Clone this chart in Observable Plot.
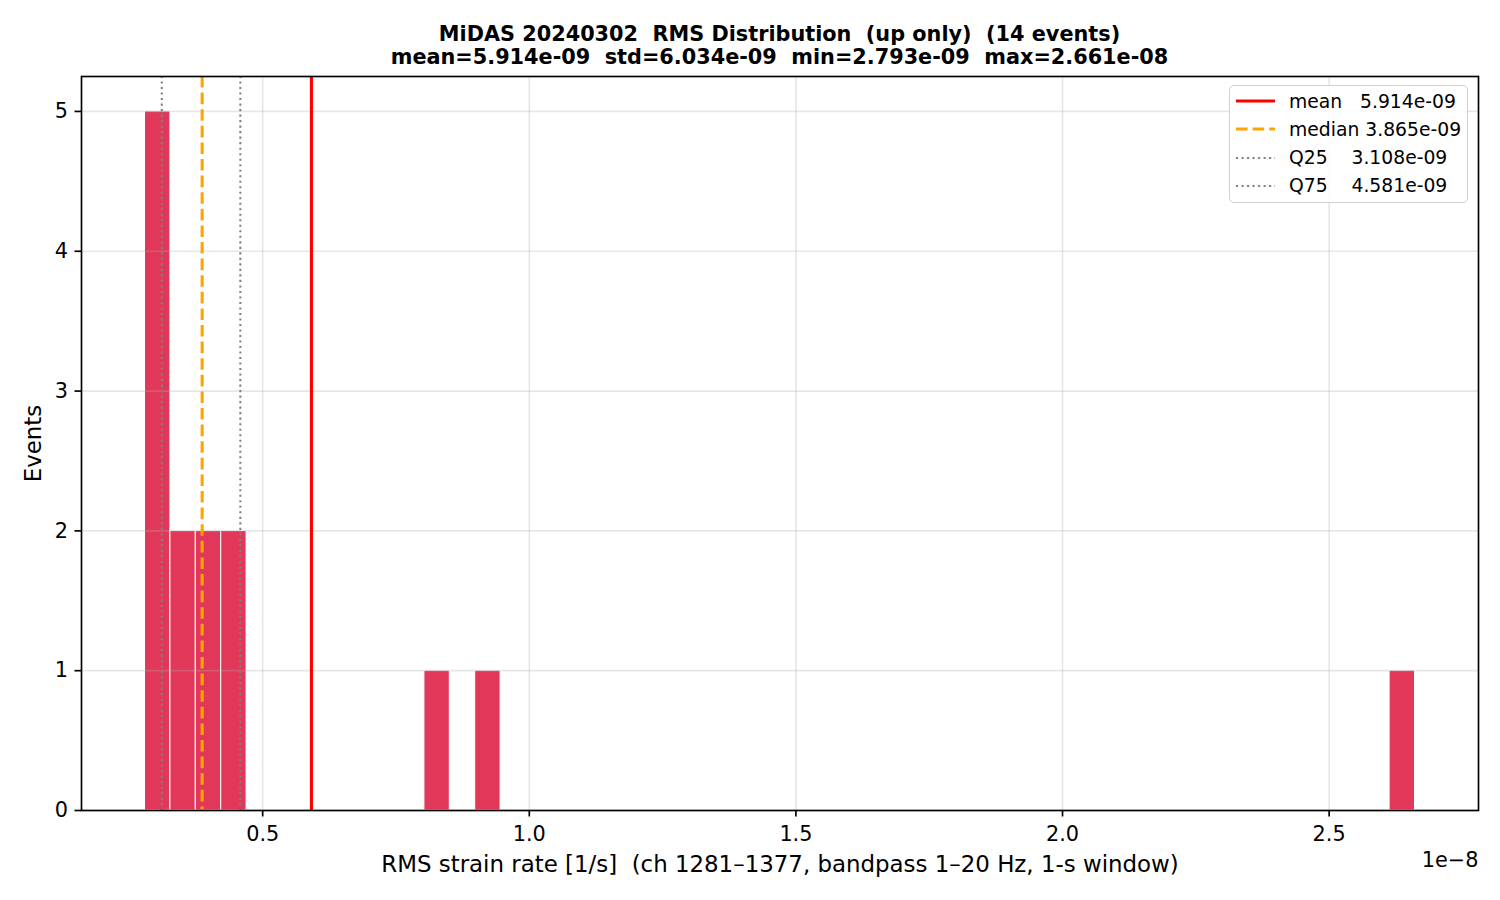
<!DOCTYPE html>
<html>
<head>
<meta charset="utf-8">
<script src="https://cdn.jsdelivr.net/npm/d3@7"></script>
<script src="https://cdn.jsdelivr.net/npm/@observablehq/plot@0.6"></script>
<style>
  html, body { margin: 0; padding: 0; background: #fff; }
  #fig { position: relative; width: 1500px; height: 900px; font-family: "DejaVu Sans", sans-serif; }
  #title { box-sizing: border-box; width: 1500px; height: 70px; padding: 23px 22px 0 81px;
           text-align: center; font-weight: bold; font-size: 20.8px; line-height: 23px; color: #000; white-space: pre; }
  #legend { position: absolute; left: 1229px; top: 85px; width: 239px; height: 118px; box-sizing: border-box;
            border: 1.4px solid #d0d0d0; border-radius: 5px; background: rgba(255,255,255,0.85);
            font-size: 18.75px; color: #000; }
  .lrow { position: absolute; left: 0; height: 28px; display: flex; align-items: center; white-space: pre; }
  .lrow svg { margin-left: 6px; margin-right: 14px; }
</style>
</head>
<body>
<div id="fig">
  <div id="title"></div>
  <div id="chart"></div>
  <div id="legend"></div>
</div>
<script>
// ---- data ----
const titleLines = [
  "MiDAS 20240302  RMS Distribution  (up only)  (14 events)",
  "mean=5.914e-09  std=6.034e-09  min=2.793e-09  max=2.661e-08"
];
const histMin = 2.793e-9;
const histMax = 2.661e-8;
const nBins = 50;
const binIndex = [0, 1, 2, 3, 11, 13, 49];
const binCount = [5, 2, 2, 2, 1, 1, 1];
const statNames = ["mean", "median", "Q25", "Q75"];
const statValues = [5.914e-9, 3.865e-9, 3.108e-9, 4.581e-9];
const statLabels = ["mean   5.914e-09", "median 3.865e-09", "Q25    3.108e-09", "Q75    4.581e-09"];
const xTickValues = [0.5e-8, 1.0e-8, 1.5e-8, 2.0e-8, 2.5e-8];
const xTickLabels = ["0.5", "1.0", "1.5", "2.0", "2.5"];
const yTickValues = [0, 1, 2, 3, 4, 5];
const xLabel = "RMS strain rate [1/s]  (ch 1281–1377, bandpass 1–20 Hz, 1-s window)";
const yLabel = "Events";
const offsetLabel = "1e−8";

// ---- build ----
const titleEl = document.getElementById("title");
titleLines.forEach(t => { const d = document.createElement("div"); d.textContent = t; titleEl.appendChild(d); });

const binW = (histMax - histMin) / nBins;
const bars = binIndex.map((b, i) => ({x1: histMin + b * binW, x2: histMin + (b + 1) * binW, y: binCount[i]}));
const span = histMax - histMin;
const xDomain = [histMin - 0.05 * span, histMax + 0.05 * span];
const yMax = d3.max(binCount);
const yDomain = [0, yMax * 1.05];

const statStyles = [
  {stroke: "red", strokeWidth: 3.1, dash: null},
  {stroke: "orange", strokeWidth: 3.1, dash: "11.6,5"},
  {stroke: "gray", strokeWidth: 2.08, dash: "2.08,3.43"},
  {stroke: "gray", strokeWidth: 2.08, dash: "2.08,3.43"}
];
const fmt = d => xTickLabels[xTickValues.indexOf(d)] ?? "";

const statMarks = statValues.map((v, i) => Plot.ruleX([v], {
  stroke: statStyles[i].stroke, strokeWidth: statStyles[i].strokeWidth,
  strokeDasharray: statStyles[i].dash
}));

const plot = Plot.plot({
  width: 1500, height: 830,
  marginTop: 6, marginBottom: 90, marginLeft: 81, marginRight: 22,
  style: {fontFamily: "DejaVu Sans, sans-serif", fontSize: "20.8px", color: "#000", background: "#fff"},
  x: {domain: xDomain},
  y: {domain: yDomain},
  marks: [
    Plot.rectY(bars, {x1: "x1", x2: "x2", y: "y", fill: "crimson", fillOpacity: 0.85, stroke: "white", strokeWidth: 1.04}),
    Plot.gridX(xTickValues, {stroke: "#b0b0b0", strokeOpacity: 0.3, strokeWidth: 1.67}),
    Plot.gridY(yTickValues, {stroke: "#b0b0b0", strokeOpacity: 0.3, strokeWidth: 1.67}),
    ...statMarks,
    Plot.axisX(xTickValues, {tickSize: 6.5, tickPadding: 9, strokeWidth: 1.67, tickFormat: fmt, fontSize: 20.8, label: null}),
    Plot.axisY(yTickValues, {tickSize: 6.5, tickPadding: 7, strokeWidth: 1.67, tickFormat: d3.format("d"), fontSize: 20.8, label: null}),
    Plot.frame({stroke: "#000", strokeWidth: 1.67}),
    Plot.text([xLabel], {frameAnchor: "bottom", dy: 54, textAnchor: "middle", lineAnchor: "middle", fontSize: 22.9, fill: "#000"}),
    Plot.text([yLabel], {frameAnchor: "left", dx: -48, rotate: -90, textAnchor: "middle", lineAnchor: "middle", fontSize: 22.9, fill: "#000"}),
    Plot.text([offsetLabel], {frameAnchor: "bottom-right", dy: 50, textAnchor: "end", lineAnchor: "middle", fontSize: 20.8, fill: "#000"})
  ]
});
document.getElementById("chart").appendChild(plot);

// legend
const legend = document.getElementById("legend");
const rowTops = [1.4, 29.4, 57.6, 85.6];
statLabels.forEach((lab, i) => {
  const s = statStyles[i];
  const row = document.createElement("div");
  row.className = "lrow";
  row.style.top = rowTops[i] + "px";
  row.innerHTML = `<svg width="39" height="10"><line x1="0" x2="39" y1="5" y2="5" stroke="${s.stroke}" stroke-width="${s.strokeWidth}" ${s.dash ? `stroke-dasharray="${s.dash}"` : ""}/></svg><span></span>`;
  row.querySelector("span").textContent = lab;
  legend.appendChild(row);
});
</script>
</body>
</html>
